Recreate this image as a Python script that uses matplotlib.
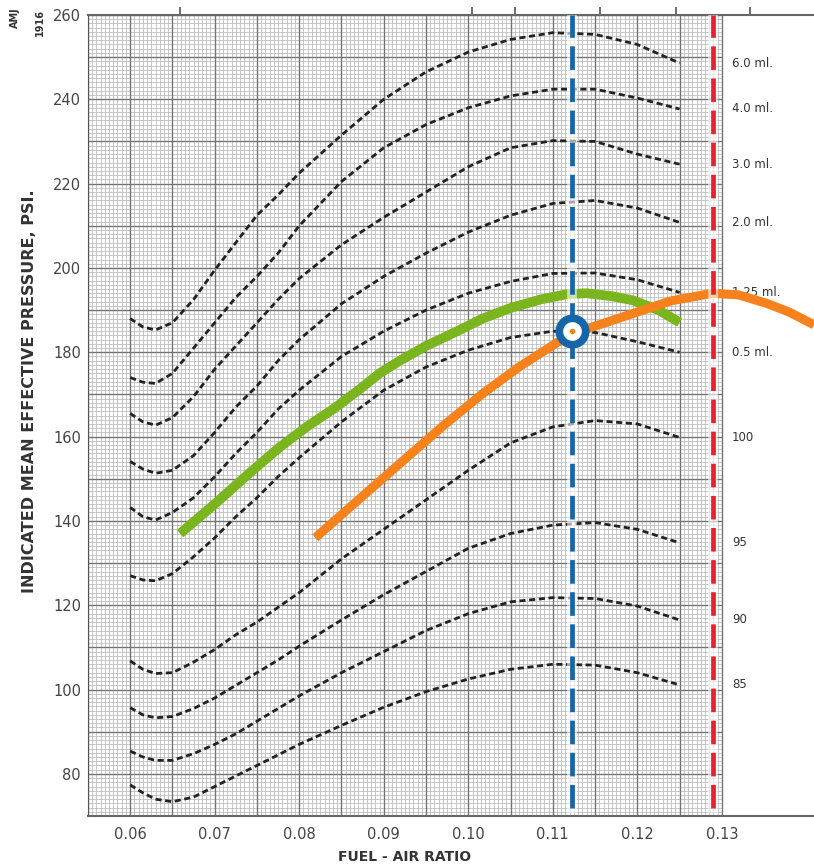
import numpy as np
import matplotlib.pyplot as plt

# fuel-air ratio positions at which the dashed curves were read
fa = [0.060, 0.0615, 0.063, 0.065, 0.0675, 0.070, 0.0725, 0.075, 0.0775, 0.080,
      0.085, 0.090, 0.095, 0.100, 0.105, 0.110, 0.115, 0.120, 0.125]

# IMEP (psi) of each dashed curve
imep_60 = [188.0, 186.0, 185.3, 187.0, 192.5, 199.5, 206.0, 212.5, 217.3, 222.5,
           231.5, 240.0, 246.5, 251.2, 254.2, 255.8, 255.4, 253.0, 248.6]
imep_40 = [174.0, 172.9, 172.6, 175.0, 181.0, 187.0, 193.0, 198.0, 203.5, 210.0,
           220.5, 228.5, 234.0, 238.0, 240.8, 242.4, 242.4, 240.3, 237.7]
imep_30 = [165.5, 163.5, 162.7, 164.5, 169.5, 176.0, 181.5, 187.0, 192.5, 197.5,
           205.5, 212.0, 218.0, 224.0, 228.5, 230.2, 230.0, 227.0, 224.6]
imep_20 = [154.1, 152.3, 151.3, 152.0, 155.5, 161.0, 167.0, 172.0, 178.0, 183.0,
           191.5, 198.0, 203.5, 208.5, 212.5, 215.3, 216.0, 214.2, 210.8]
imep_125 = [143.2, 141.0, 140.2, 142.0, 145.5, 150.5, 156.0, 161.0, 166.5, 171.0,
            179.0, 185.0, 190.0, 194.0, 196.8, 198.7, 198.8, 197.2, 194.2]
imep_05 = [127.0, 126.0, 125.8, 127.5, 131.5, 136.0, 141.0, 145.5, 150.5, 155.0,
           163.5, 171.0, 176.5, 180.5, 183.5, 185.0, 184.7, 182.5, 180.0]
imep_100 = [106.8, 104.8, 103.8, 104.0, 106.5, 109.5, 113.0, 116.0, 119.5, 123.0,
            131.0, 138.0, 145.0, 152.0, 158.5, 162.3, 163.8, 163.0, 159.8]
imep_95 = [95.7, 94.0, 93.3, 93.6, 95.5, 98.0, 101.0, 104.0, 107.0, 110.3,
           116.5, 122.5, 128.0, 133.5, 137.0, 139.0, 139.6, 138.0, 134.8]
imep_90 = [85.4, 84.0, 83.2, 83.2, 84.8, 87.0, 89.5, 92.5, 95.5, 98.5,
           104.0, 109.0, 114.0, 118.0, 120.8, 121.8, 121.6, 119.8, 116.5]
imep_85 = [77.4, 75.5, 74.0, 73.4, 74.5, 77.0, 79.5, 82.0, 84.5, 87.0,
           91.5, 95.8, 99.5, 102.5, 104.8, 106.0, 105.8, 104.0, 101.1]

curve_labels = ["6.0 ml.", "4.0 ml.", "3.0 ml.", "2.0 ml.", "1.25 ml.", "0.5 ml.",
                "100", "95", "90", "85"]
curves = [imep_60, imep_40, imep_30, imep_20, imep_125, imep_05,
          imep_100, imep_95, imep_90, imep_85]

# green and orange curves
green_fa = [0.0659, 0.0700, 0.0742, 0.0777, 0.0810, 0.0840, 0.0870, 0.0895, 0.0919, 0.0950,
            0.0987, 0.1017, 0.1050, 0.1085, 0.1117, 0.1140, 0.1170, 0.1195, 0.1225, 0.1250]
green_imep = [137.0, 144.0, 151.5, 157.5, 162.5, 166.5, 171.0, 175.0, 178.0, 181.5,
              185.0, 188.0, 190.5, 192.5, 193.8, 194.0, 193.3, 192.3, 190.0, 187.1]
orange_fa = [0.0819, 0.0870, 0.0919, 0.0970, 0.1017, 0.1060, 0.1105, 0.1144, 0.1195,
             0.1240, 0.1289, 0.1320, 0.1353, 0.1380, 0.1409]
orange_imep = [136.0, 145.0, 153.6, 162.5, 170.2, 176.5, 182.3, 185.8, 189.2,
               192.2, 194.0, 193.6, 191.6, 189.5, 186.5]

blue_fa = 0.1123
red_fa = 0.1289
point = (0.1123, 185.0)

top_ticks = [0.0659, 0.1004, 0.1055, 0.1156, 0.1246, 0.1333]

xmin, xmax, gridmax = 0.055, 0.1409, 0.13
ymin, ymax = 70, 260

fig = plt.figure(figsize=(8.14, 8.66), dpi=100)
ax = fig.add_axes([0.108, 0.0577, 0.892, 0.925])
ax.set_xlim(xmin, xmax)
ax.set_ylim(ymin, ymax)

# graph paper
gx = np.linspace(xmin, gridmax, 151)
gy = np.arange(ymin, ymax + 1)
ax.vlines(gx, ymin, ymax, colors='#b4b4b4', lw=0.5, zorder=1)
ax.hlines(gy, xmin, gridmax, colors='#b4b4b4', lw=0.5, zorder=1)
ax.vlines(gx[::10], ymin, ymax, colors='#747474', lw=1.0, zorder=1.1)
ax.hlines(gy[::10], xmin, gridmax, colors='#747474', lw=1.0, zorder=1.1)

for vals, lab in zip(curves, curve_labels):
    ax.plot(fa, vals, color='#222222', lw=2.0, ls=(0, (2.2, 1.3)), zorder=3)
    ax.text(0.1312, vals[-1], lab, fontsize=8.5, color='#333333', va='center', zorder=2)

ax.plot(green_fa, green_imep, color='#7ab51d', lw=7, solid_capstyle='butt', zorder=4)
ax.plot(orange_fa, orange_imep, color='#f7821b', lw=6.5, solid_capstyle='butt', zorder=5)

for xv, col in [(blue_fa, '#1565a8'), (red_fa, '#e8222c')]:
    ax.plot([xv, xv], [71.8, ymax], color='white', lw=7, alpha=0.6, zorder=5.5)
    ax.plot([xv, xv], [71.8, ymax], color=col, lw=3.4, ls=(0, (5, 1.8)), zorder=6)

ax.plot(*point, marker='o', ms=19, mew=5.5, mec='#1565a8', mfc='white', zorder=7)
ax.plot(*point, marker='o', ms=4, mew=0, mfc='#f7821b', zorder=8)

ax.set_xticks([0.06, 0.07, 0.08, 0.09, 0.10, 0.11, 0.12, 0.13])
ax.set_xticklabels(["0.06", "0.07", "0.08", "0.09", "0.10", "0.11", "0.12", "0.13"])
ax.set_yticks(range(80, 261, 20))
ax.tick_params(length=0, labelsize=10.5, labelcolor='#444444')
ax.tick_params(axis='y', pad=5)
ax.tick_params(axis='x', pad=8)

ax.spines['right'].set_visible(False)
ax.spines['left'].set_color('#555555')
for s in ['top', 'bottom']:
    ax.spines[s].set_color('#666666')
    ax.spines[s].set_linewidth(1.5)

top = ax.secondary_xaxis('top')
top.set_xticks(top_ticks)
top.set_xticklabels([])
top.tick_params(length=6, width=1.2, color='#555555')
top.spines['top'].set_visible(False)

ax.set_xlabel("FUEL - AIR RATIO", fontsize=10, fontweight='bold', color='#333333')
ax.xaxis.set_label_coords((0.0925 - xmin) / (xmax - xmin), -0.043)
ax.set_ylabel("INDICATED MEAN EFFECTIVE PRESSURE, PSI.", fontsize=11.5,
              fontweight='bold', color='#333333')
ax.yaxis.set_label_coords(-0.07, 0.53)

fig.text(15 / 814, 1 - 28 / 866, "AMJ", rotation=90, fontsize=7, fontweight='bold',
         color='#333333', ha='center', va='bottom')
fig.text(40 / 814, 1 - 36 / 866, "1916", rotation=90, fontsize=7, fontweight='bold',
         color='#333333', ha='center', va='bottom')

fig.savefig('out.png', dpi=100)
